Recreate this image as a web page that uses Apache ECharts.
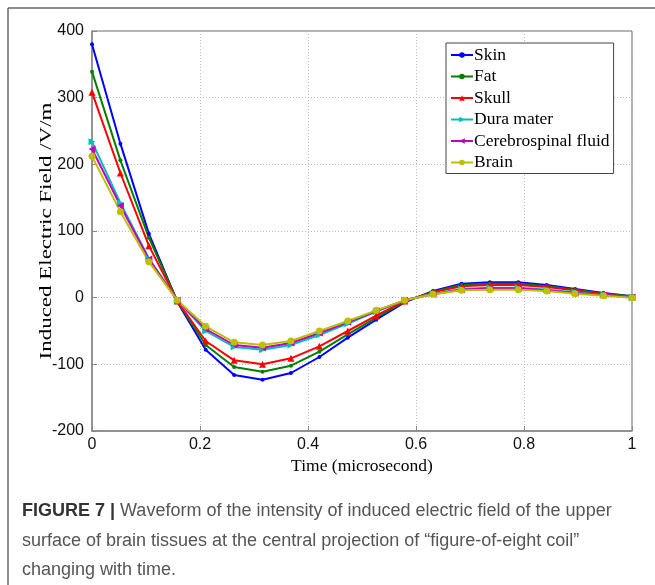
<!DOCTYPE html>
<html lang="en">
<head>
    <meta charset="UTF-8">
    <title>Figure 7</title>
    <script src="https://cdn.jsdelivr.net/npm/echarts@6/dist/echarts.min.js"></script>
    <style>
        body { margin: 0; padding: 0; background: #fff; }
        #main { width: 655px; height: 585px; }
    </style>
</head>
<body>
    <div id="main"></div>
    <script>
        // time samples (microsecond)
        var time = [0, 0.0526, 0.1053, 0.1579, 0.2105, 0.2632, 0.3158, 0.3684, 0.4211, 0.4737,
                    0.5263, 0.5789, 0.6316, 0.6842, 0.7368, 0.7895, 0.8421, 0.8947, 0.9474, 1];

        // induced electric field, V/m
        var skin  = [380, 231, 96, -6, -78, -116, -123, -113, -89, -60, -33, -7, 10, 21, 23, 23, 19, 13, 7, 2];
        var fat   = [339, 206, 90, -5, -71, -104, -111, -102, -81, -55, -30, -6, 9, 19, 21, 21, 17, 12, 6, 2];
        var skull = [308, 187, 78, -5, -65, -94, -100, -91, -73, -50, -27, -5, 8, 17, 19, 19, 16, 11, 5, 1];
        var dura  = [234, 142, 59, -4, -50, -74, -78, -71, -56, -39, -21, -4, 6, 13, 15, 15, 12, 8, 4, 1];
        var csf   = [223, 138, 58, -4, -47, -71, -75, -68, -53, -37, -20, -4, 5, 12, 14, 14, 11, 7, 4, 1];
        var brain = [212, 129, 54, -4, -43, -67, -71, -65, -50, -35, -19, -4, 5, 11, 12, 12, 10, 6, 3, 0];

        var names = ['Skin', 'Fat', 'Skull', 'Dura mater', 'Cerebrospinal fluid', 'Brain'];
        var colors = ['#0000ff', '#008000', '#ff0000', '#00bfbf', '#bf00bf', '#bfbf00'];

        function pairs(ys) {
            return ys.map(function (v, i) { return [time[i], v]; });
        }

        function makeSeries(name, ys, color, symbol, size, rot) {
            return {
                name: name,
                type: 'line',
                data: pairs(ys),
                symbol: symbol,
                symbolSize: size,
                symbolRotate: rot || 0,
                showAllSymbol: true,
                lineStyle: { color: color, width: 2 },
                itemStyle: { color: color },
                emphasis: { disabled: true },
                animation: false
            };
        }

        var serif = 'Liberation Serif';
        var sans = 'Liberation Sans';

        var chart = echarts.init(document.getElementById('main'));
        chart.setOption({
            backgroundColor: '#fff',
            animation: false,
            grid: {
                left: 92, right: 23, top: 31, bottom: 154,
                show: true, borderColor: '#666', borderWidth: 1
            },
            legend: {
                data: names,
                orient: 'vertical',
                left: 446, top: 43,
                backgroundColor: '#fff',
                borderColor: '#444',
                borderWidth: 1,
                padding: [3, 4, 2, 4],
                itemGap: 3.5,
                itemWidth: 22,
                itemHeight: 7,
                textStyle: { fontFamily: serif, fontSize: 17.5, color: '#000', padding: [0, 0, 0, -4] }
            },
            xAxis: {
                type: 'value',
                min: 0, max: 1, interval: 0.2,
                name: 'Time (microsecond)',
                nameLocation: 'middle',
                nameGap: 26,
                nameTextStyle: { fontFamily: serif, fontSize: 17.5, color: '#000' },
                axisLine: { onZero: false, lineStyle: { color: '#888', width: 1.5 } },
                axisTick: { inside: true, length: 5, lineStyle: { color: '#888' } },
                axisLabel: { fontFamily: sans, fontSize: 16, color: '#111', margin: 6 },
                splitLine: { show: true, lineStyle: { color: '#bbb', type: [1, 2], width: 1 } }
            },
            yAxis: {
                type: 'value',
                min: -200, max: 400, interval: 100,
                axisLine: { show: true, onZero: false, lineStyle: { color: '#888', width: 1.5 } },
                axisTick: { show: true, inside: true, length: 5, lineStyle: { color: '#888' } },
                axisLabel: { fontFamily: sans, fontSize: 16, color: '#111', margin: 8 },
                splitLine: { show: true, lineStyle: { color: '#bbb', type: [1, 2], width: 1 } }
            },
            series: [
                makeSeries(names[0], skin, colors[0], 'circle', 4),
                makeSeries(names[1], fat, colors[1], 'circle', 4),
                makeSeries(names[2], skull, colors[2], 'triangle', 7),
                makeSeries(names[3], dura, colors[3], 'triangle', 7, -90),
                makeSeries(names[4], csf, colors[4], 'triangle', 7, 90),
                makeSeries(names[5], brain, colors[5], 'circle', 7)
            ],
            graphic: [
                { type: 'line', shape: { x1: 8, y1: 8, x2: 655, y2: 8 }, style: { stroke: '#666', lineWidth: 1.5 } },
                { type: 'line', shape: { x1: 8, y1: 8, x2: 8, y2: 585 }, style: { stroke: '#666', lineWidth: 1.5 } },
                // y axis title, stretched along its length like the original figure
                {
                    type: 'text', x: 47, y: 231, rotation: Math.PI / 2, scaleX: 1.35,
                    style: {
                        text: 'Induced Electric Field /V/m',
                        font: '17px ' + serif, fill: '#000',
                        align: 'center', verticalAlign: 'middle'
                    }
                },
                {
                    type: 'text', left: 22, top: 502,
                    style: {
                        text: '{b|FIGURE 7 |} Waveform of the intensity of induced electric field of the upper',
                        font: '18px ' + sans, fill: '#555',
                        rich: { b: { fontFamily: sans, fontSize: 18, fontWeight: 'bold', fill: '#333' } }
                    }
                },
                {
                    type: 'text', left: 22, top: 532,
                    style: { text: 'surface of brain tissues at the central projection of \u201cfigure-of-eight coil\u201d', font: '18px ' + sans, fill: '#555' }
                },
                {
                    type: 'text', left: 22, top: 561,
                    style: { text: 'changing with time.', font: '18px ' + sans, fill: '#555' }
                }
            ]
        });
    </script>
</body>
</html>
